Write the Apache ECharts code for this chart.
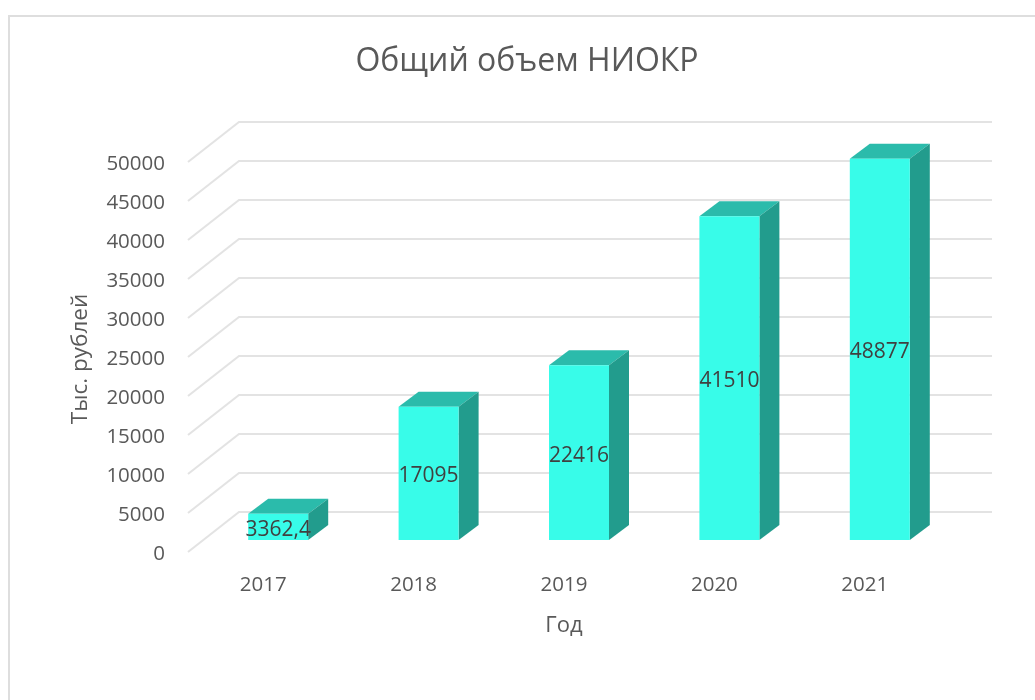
<!DOCTYPE html>
<html>
<head>
<meta charset="utf-8">
<title>Общий объем НИОКР</title>
<script src="https://cdn.jsdelivr.net/npm/echarts@6/dist/echarts.min.js"></script>
<style>
  html, body { margin: 0; padding: 0; background: #fff; }
  #main { width: 1035px; height: 700px; }
</style>
</head>
<body>
<div id="main"></div>
<script>
const years = ['2017', '2018', '2019', '2020', '2021']
const volumes = [3362.4, 17095, 22416, 41510, 48877]
const volumeLabels = ['3362,4', '17095', '22416', '41510', '48877']
const wallTicks = [0, 5000, 10000, 15000, 20000, 25000, 30000, 35000, 40000, 45000, 50000]

const fontName = '"Open Sans", "Noto Sans", sans-serif'

// the walls sit behind the front plane, the bars only halfway into it
const wallDepth = { x: 51, y: -40 }
const barDepth = { x: 20, y: -15 }
const barLift = -12
const barShift = 15
const barWidth = 60

function renderWall(params, api) {
  const y = api.coord([0, api.value(0)])[1]
  const left = params.coordSys.x
  const right = left + params.coordSys.width + wallDepth.x + 1
  return {
    type: 'polyline',
    silent: true,
    shape: { points: [[left, y], [left + wallDepth.x, y + wallDepth.y], [right, y + wallDepth.y]] },
    style: { fill: null, stroke: '#e3e3e3', lineWidth: 2 }
  }
}

function renderBar(params, api) {
  const idx = api.value(0)
  const top = api.coord([idx, api.value(1)])
  const base = api.coord([idx, 0])
  const x0 = top[0] + barShift - barWidth / 2
  const x1 = x0 + barWidth
  const y0 = top[1] + barLift
  const y1 = base[1] + barLift
  const dx = barDepth.x
  const dy = barDepth.y
  return {
    type: 'group',
    children: [
      { type: 'polygon', shape: { points: [[x0, y0], [x0 + dx, y0 + dy], [x1 + dx, y0 + dy], [x1, y0]] }, style: { fill: '#2bbbab' } },
      { type: 'polygon', shape: { points: [[x1, y0], [x1 + dx, y0 + dy], [x1 + dx, y1 + dy], [x1, y1]] }, style: { fill: '#229c8d' } },
      { type: 'rect', shape: { x: x0, y: y0, width: barWidth, height: y1 - y0 }, style: { fill: '#38fce9' } },
      {
        type: 'text',
        style: {
          text: volumeLabels[idx],
          x: (x0 + x1) / 2,
          y: (y0 + y1) / 2 + 3,
          align: 'center',
          verticalAlign: 'middle',
          fill: '#404040',
          font: '21px ' + fontName
        }
      }
    ]
  }
}

const myChart = echarts.init(document.getElementById('main'))
myChart.setOption({
  animation: false,
  backgroundColor: '#fff',
  textStyle: { fontFamily: fontName },
  title: {
    text: 'Общий объем НИОКР',
    left: 522,
    top: 41,
    textAlign: 'center',
    textStyle: { fontSize: 32, fontWeight: 'normal', color: '#595959', fontFamily: fontName }
  },
  graphic: [
    {
      type: 'rect',
      silent: true,
      shape: { x: 9, y: 16, width: 1200, height: 900 },
      style: { fill: null, stroke: '#dedede', lineWidth: 2 }
    }
  ],
  grid: { left: 188, top: 162, width: 752, height: 390 },
  xAxis: {
    type: 'category',
    data: years,
    name: 'Год',
    nameLocation: 'middle',
    nameGap: 63,
    nameTextStyle: { fontSize: 22, color: '#595959' },
    axisLine: { show: false },
    axisTick: { show: false },
    axisLabel: { fontSize: 20.5, color: '#595959', margin: 23 }
  },
  yAxis: {
    type: 'value',
    min: 0,
    max: 50000,
    interval: 5000,
    name: 'Тыс. рублей',
    nameLocation: 'middle',
    nameGap: 96,
    nameTextStyle: { fontSize: 22.5, color: '#595959', padding: [0, 4, 0, 0] },
    axisLine: { show: false },
    axisTick: { show: false },
    splitLine: { show: false },
    axisLabel: { fontSize: 20.5, color: '#595959', margin: 23, verticalAlign: 'top', lineHeight: 4, formatter: v => String(v) }
  },
  series: [
    {
      type: 'custom',
      coordinateSystem: 'cartesian2d',
      renderItem: renderWall,
      clip: false,
      silent: true,
      z: 1,
      encode: { y: 0 },
      data: wallTicks.map(v => [v])
    },
    {
      type: 'custom',
      coordinateSystem: 'cartesian2d',
      renderItem: renderBar,
      clip: false,
      z: 2,
      encode: { x: 0, y: 1 },
      data: volumes.map((v, i) => [i, v])
    }
  ]
})
</script>
</body>
</html>
